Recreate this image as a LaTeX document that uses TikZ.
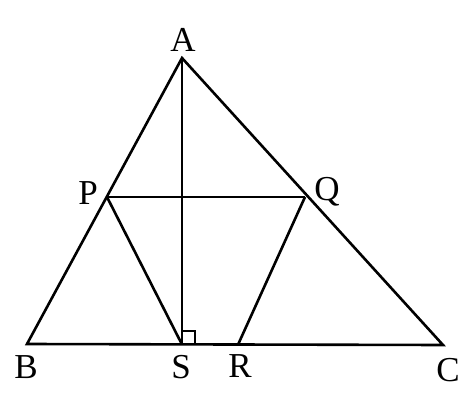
\documentclass[tikz,border=0pt]{standalone}
\usepackage{fontspec}
\setmainfont{Liberation Serif}
\begin{document}
\begin{tikzpicture}[x=1pt,y=-1pt,line width=2.6pt,line join=miter,
  lbl/.style={font=\fontsize{35}{35}\selectfont,inner sep=0pt}]
\useasboundingbox (0,0) rectangle (474,420);
\coordinate (A) at (182,58);
\coordinate (B) at (27,344);
\coordinate (C) at (443,345);
\coordinate (S) at (182,344.5);
\coordinate (R) at (238,344.7);
\coordinate (P) at (107,197);
\coordinate (Q) at (305,197);
\draw (A) -- (B) -- (C) -- cycle;
\draw (A) -- (S);
\draw (P) -- (Q);
\draw (P) -- (S);
\draw (Q) -- (R);
\draw[line width=1.8pt] (182,331) -- (195,331) -- (195,344.5);
\node[lbl] (lA) at (183,40) {A};
\node[lbl] (lB) at (26,367) {B};
\node[lbl] (lS) at (181,367) {S};
\node[lbl] (lR) at (240,366) {R};
\node[lbl] (lC) at (448,370) {C};
\node[lbl] (lP) at (88,193) {P};
\node[lbl] (lQ) at (327,192) {Q};
\end{tikzpicture}
\end{document}
